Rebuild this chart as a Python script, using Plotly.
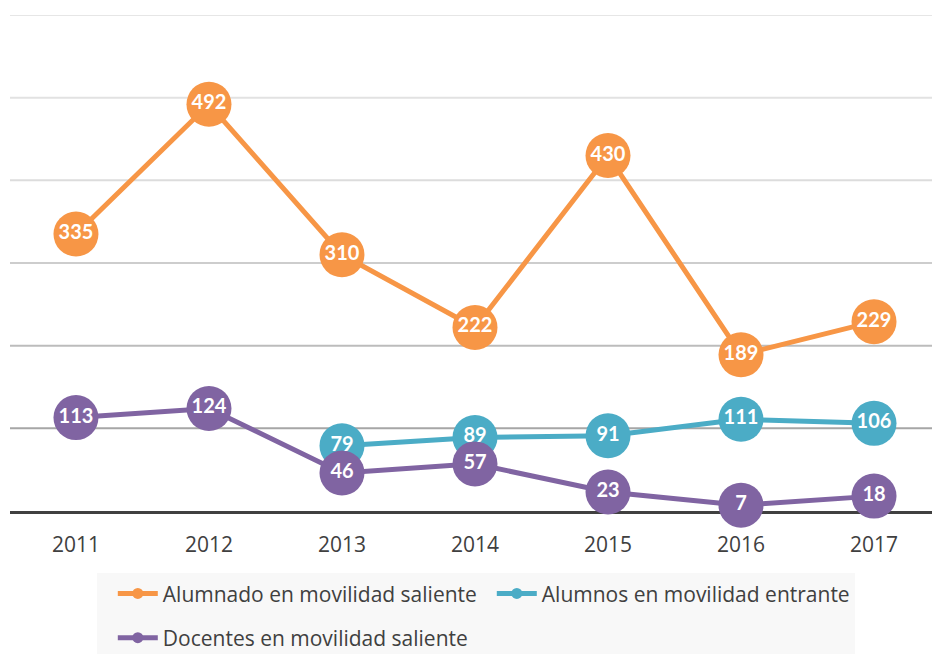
import plotly.graph_objects as go

years = ["2011", "2012", "2013", "2014", "2015", "2016", "2017"]
alumnado_saliente = [335, 492, 310, 222, 430, 189, 229]
alumnos_entrante = [None, None, 79, 89, 91, 111, 106]
docentes_saliente = [113, 124, 46, 57, 23, 7, 18]

series = [
    ("Alumnado en movilidad saliente", alumnado_saliente, "#F79646", "legend"),
    ("Alumnos en movilidad entrante", alumnos_entrante, "#4BACC6", "legend"),
    ("Docentes en movilidad saliente", docentes_saliente, "#8064A2", "legend2"),
]

grid_values = [100, 200, 300, 400, 500, 600]
grid_colors = ["#a6a6a6", "#bcbcbc", "#cdcdcd", "#dcdcdc", "#e2e2e2", "#e6e6e6"]

LABEL_FONT = "Lato"
TEXT_FONT = "Open Sans"

fig = go.Figure()

# lines and round markers
for name, vals, color, _ in series:
    fig.add_trace(go.Scatter(
        x=years, y=vals, mode="lines+markers", name=name,
        line=dict(color=color, width=5),
        marker=dict(color=color, size=45, line=dict(width=0)),
        connectgaps=False, showlegend=False, hoverinfo="skip",
        cliponaxis=False,
    ))

# value labels drawn above all markers
for name, vals, color, _ in series:
    fig.add_trace(go.Scatter(
        x=years, y=vals, mode="text",
        text=[("" if v is None else str(v)) for v in vals],
        textposition="middle center",
        textfont=dict(family=LABEL_FONT, size=20, color="white", weight="bold"),
        showlegend=False, hoverinfo="skip", cliponaxis=False,
    ))

# legend entries
for name, vals, color, lg in series:
    fig.add_trace(go.Scatter(
        x=[None], y=[None], mode="lines+markers", name=name, legend=lg,
        line=dict(color=color, width=5),
        marker=dict(color=color, size=11),
    ))

# horizontal gridlines, getting darker toward the baseline
for v, c in zip(grid_values, grid_colors):
    fig.add_shape(type="line", xref="paper", yref="y", x0=0, x1=1, y0=v, y1=v,
                  line=dict(color=c, width=2), layer="below")

# shared legend panel
fig.add_shape(type="rect", xref="paper", yref="paper",
              x0=0.0944, x1=0.9165, y0=-0.125, y1=-0.30,
              fillcolor="#f8f8f8", line=dict(width=0), layer="below")

legend_common = dict(
    orientation="h", xanchor="left", yanchor="middle",
    bgcolor="rgba(0,0,0,0)",
    font=dict(family=TEXT_FONT, size=21, color="#404040"),
    itemwidth=40,
)

fig.update_layout(
    width=932, height=654,
    margin=dict(l=10, r=0, t=15, b=143, autoexpand=False),
    paper_bgcolor="white", plot_bgcolor="white",
    font=dict(family=TEXT_FONT, color="#404040"),
    xaxis=dict(
        type="category", range=[-0.496, 6.436], showgrid=False, zeroline=False,
        showline=True, linecolor="#404040", linewidth=3, layer="below traces",
        ticks="", ticklabelstandoff=13,
        tickfont=dict(family=TEXT_FONT, size=21, color="#404040"),
    ),
    yaxis=dict(range=[0, 600], showgrid=False, zeroline=False, showline=False,
               showticklabels=False, ticks=""),
    legend=dict(x=0.1115, y=-0.167, entrywidth=324, entrywidthmode="pixels",
                **legend_common),
    legend2=dict(x=0.1115, y=-0.256, **legend_common),
    showlegend=True,
)

fig.write_html("out.html")
